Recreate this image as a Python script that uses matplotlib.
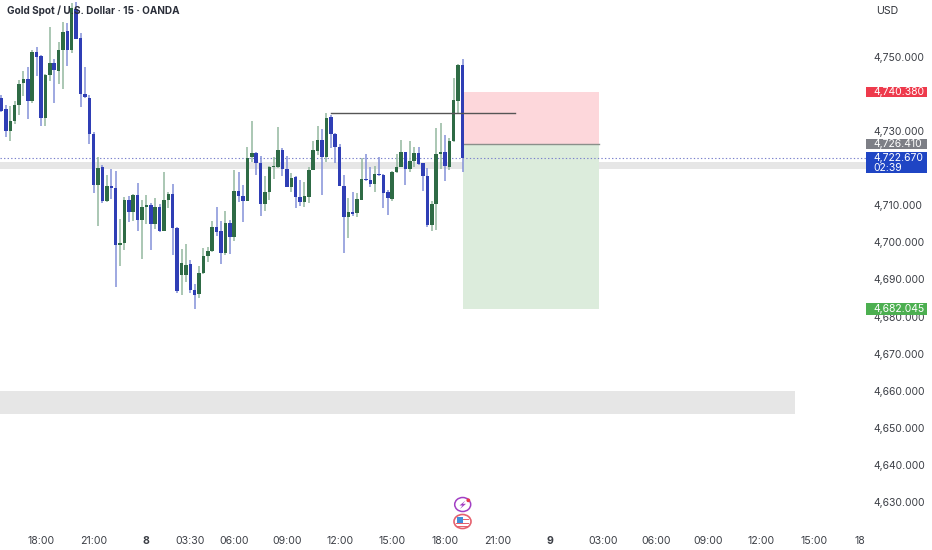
import matplotlib
matplotlib.use("Agg")
import matplotlib.pyplot as plt
from matplotlib.patches import Rectangle, Ellipse, Polygon
from matplotlib.transforms import blended_transform_factory

opens = [4738.9,4735.8,4730.0,4732.7,4736.9,4742.9,4743.9,4737.9,4751.2,4750.1,4733.4,4745.0,4748.2,4746.1,4751.7,4756.8,4751.7,4762.7,4754.9,4739.8,
4738.9,4729.1,4715.4,4720.3,4711.1,4715.1,4714.6,4699.3,4699.7,4711.4,4708.2,4712.7,4706.1,4709.4,4709.9,4704.9,4709.6,4702.9,4711.4,4713.1,
4703.8,4691.3,4691.3,4694.1,4687.2,4686.0,4691.6,4696.4,4697.7,4704.2,4702.9,4697.2,4705.1,4701.3,4713.9,4712.5,4711.1,4723.0,4723.9,4721.4,
4710.3,4713.4,4720.2,4720.3,4724.9,4719.6,4714.9,4717.5,4712.2,4710.9,4712.3,4719.5,4724.6,4727.5,4723.0,4733.7,4729.1,4725.7,4715.1,4706.7,
4708.1,4707.8,4711.5,4717.1,4716.8,4715.6,4718.5,4718.1,4713.4,4711.7,4718.9,4720.2,4724.2,4719.6,4721.9,4723.9,4721.2,4717.8,4704.7,4710.3,
4723.8,4724.3,4720.3,4727.2,4738.1,4747.7]
highs = [4739.6,4736.9,4736.7,4738.1,4743.7,4746.1,4747.1,4751.7,4752.5,4750.4,4745.3,4758.0,4749.2,4753.8,4759.4,4758.9,4764.3,4764.8,4756.2,4747.1,
4739.6,4729.6,4722.9,4720.8,4718.1,4719.6,4719.1,4706.3,4712.1,4712.5,4713.0,4715.9,4711.3,4712.7,4710.5,4711.8,4710.3,4719.0,4713.6,4715.7,
4704.0,4698.2,4699.5,4695.2,4688.8,4693.7,4698.4,4698.8,4705.7,4709.4,4705.7,4708.3,4706.0,4719.5,4719.0,4715.4,4725.6,4732.7,4724.4,4723.2,
4717.8,4720.5,4722.9,4731.0,4725.3,4723.2,4718.7,4717.8,4716.8,4716.3,4720.2,4727.3,4731.3,4730.6,4734.7,4734.2,4729.3,4726.4,4718.1,4711.8,
4713.4,4713.2,4722.6,4723.8,4720.2,4720.4,4722.9,4718.4,4714.1,4719.3,4723.7,4727.6,4724.4,4727.3,4725.7,4725.7,4721.4,4719.9,4711.2,4730.7,
4732.0,4728.9,4728.0,4744.1,4748.0,4749.3]
lows = [4735.1,4728.2,4727.3,4731.8,4734.2,4739.4,4733.1,4737.4,4744.7,4731.4,4731.4,4743.4,4737.4,4742.6,4741.2,4747.5,4751.0,4754.8,4736.5,4738.9,
4726.4,4713.2,4704.4,4710.7,4710.8,4711.7,4687.9,4693.7,4697.9,4705.4,4705.8,4703.1,4695.5,4705.0,4697.9,4703.7,4702.7,4702.9,4709.2,4696.6,
4686.3,4685.8,4689.4,4686.4,4682.0,4684.9,4691.5,4694.8,4697.3,4701.7,4694.2,4696.6,4696.8,4700.4,4710.9,4705.5,4711.1,4721.7,4718.1,4707.1,
4708.5,4711.4,4717.1,4720.1,4717.9,4714.8,4713.4,4709.3,4709.8,4709.6,4710.5,4719.5,4723.5,4712.6,4721.7,4725.5,4721.4,4715.1,4697.0,4701.2,
4707.1,4706.9,4711.4,4716.6,4715.0,4713.4,4717.8,4709.3,4707.4,4711.2,4718.7,4720.2,4715.3,4719.0,4720.2,4720.8,4713.9,4704.2,4702.9,4703.3,
4719.6,4716.6,4719.5,4727.1,4734.7,4719.0]
closes = [4735.4,4730.0,4732.7,4736.9,4742.7,4743.9,4737.9,4751.2,4750.0,4733.4,4745.0,4748.3,4746.4,4751.7,4756.6,4751.7,4763.0,4754.8,4740.0,4739.0,
4729.1,4715.4,4720.1,4711.1,4715.1,4714.6,4699.3,4699.7,4711.4,4708.1,4712.7,4706.1,4709.5,4709.9,4704.9,4709.6,4702.9,4711.4,4713.0,4703.8,
4687.0,4694.3,4693.9,4687.2,4685.9,4691.6,4696.4,4697.7,4704.2,4702.8,4697.2,4705.1,4701.3,4713.9,4712.5,4711.1,4722.8,4724.0,4721.4,4710.3,
4713.4,4720.3,4720.5,4724.9,4719.6,4715.0,4717.4,4712.2,4710.9,4712.4,4719.4,4724.7,4727.4,4723.0,4733.5,4729.1,4725.6,4715.1,4706.7,4708.1,
4707.7,4711.6,4717.1,4716.8,4715.6,4718.5,4718.1,4713.3,4711.8,4719.0,4720.3,4724.2,4719.7,4722.0,4723.9,4721.0,4717.7,4704.7,4710.4,4723.8,
4724.4,4720.4,4727.3,4738.2,4747.7,4722.67]

price_ticks = [4750,4730,4710,4700,4690,4680,4670,4660,4650,4640,4630]
time_pos = [9,21,33,43,53,65,77,89,101,113,125,137,149,161,173,185,195.4]
time_labels = ["18:00","21:00","8","03:30","06:00","09:00","12:00","15:00","18:00","21:00","9","03:00","06:00","09:00","12:00","15:00","18"]
stop_level, entry_level, target_level = 4740.38, 4726.41, 4682.045
last_price = 4722.67
resist_level = 4734.87
band_upper = (4719.6, 4721.6)
band_lower = (4653.8, 4660.0)

FONT = "Inter"
W, H = 932, 550
fig = plt.figure(figsize=(W/100, H/100), dpi=100, facecolor="white")
ax = fig.add_axes([0, 23/H, 866/W, 527/H])
ax.set_xlim(-0.34, 196.9)
ax.set_ylim(4623.35, 4765.21)
for s in ax.spines.values():
    s.set_visible(False)

GREEN, BLUE = "#2e6b45", "#2f3eb5"
GREEN_W, BLUE_W = "#93b89f", "#8491d8"

ax.axhspan(*band_upper, color="#e6e6e6", lw=0, zorder=0)
ax.fill_between([-1, 180.8], *band_lower, color="#e6e6e6", lw=0, zorder=0)
ax.fill_between([105, 136.1], entry_level, stop_level, color="#fdd7db", lw=0, zorder=0.5)
ax.fill_between([105, 136.1], target_level, entry_level, color="#dcecdc", lw=0, zorder=0.5)
ax.plot([105, 136.1], [entry_level]*2, color="#8a8f8a", lw=1, zorder=0.6)
ax.axhline(last_price, color="#7a80cc", lw=0.8, ls=(0, (1.2, 2.0)), zorder=0.8)

for i, (o, h, l, c) in enumerate(zip(opens, highs, lows, closes)):
    up = c >= o
    ax.vlines(i, l, h, color=GREEN_W if up else BLUE_W, lw=1.1, zorder=2)
    ax.bar(i, abs(c-o), bottom=min(o, c), width=0.8, color=GREEN if up else BLUE, lw=0, zorder=3)

ax.plot([75, 117], [resist_level]*2, color="#555555", lw=1.0, zorder=4)

ax.yaxis.tick_right()
ax.set_yticks(price_ticks)
ax.set_yticklabels([f"{p:,}.000" for p in price_ticks], fontsize=7.5, family=FONT, color="#3c3f46")
ax.set_xticks(time_pos)
ax.set_xticklabels(time_labels, fontsize=7.6, family=FONT, color="#3c3f46")
for t, lab in zip(ax.get_xticklabels(), time_labels):
    if lab in ("8", "9"):
        t.set_fontweight("bold")
ax.tick_params(axis="both", length=0)
ax.tick_params(axis="y", pad=5.0)
ax.tick_params(axis="x", pad=6.5)

tr = blended_transform_factory(fig.transFigure, ax.transData)
def tag(level, dy_top, dy_bot, color, lines):
    x0, x1 = 866/W, 927/W
    top, bot = level + dy_top, level - dy_bot
    ax.add_patch(Rectangle((x0, bot), x1-x0, top-bot, transform=tr, color=color, lw=0, clip_on=False, zorder=10))
    for txt, off in lines:
        ax.text(873/W, level+off, txt, transform=tr, color="white", fontsize=7.5, family=FONT,
                ha="left", va="center", clip_on=False, zorder=11)

tag(stop_level, 1.4, 1.4, "#ee3a4c", [(f"{stop_level:,.3f}", 0)])
tag(entry_level, 1.5, 1.4, "#7d7f86", [(f"{entry_level:,.3f}", 0)])
tag(last_price, 1.5, 4.1, "#1f45c4", [(f"{last_price:,.3f}", 0), ("02:39", -2.6)])
tag(target_level, 1.5, 1.5, "#4caf50", [(f"{target_level:,.3f}", 0)])

fig.text(876/W, 1-11.5/H, "USD", fontsize=7.6, family=FONT, color="#2e3138", ha="left", va="center")
fig.text(7/W, 1-11/H, "Gold Spot / U.S. Dollar · 15 · OANDA", fontsize=7.2, family=FONT,
         fontweight="bold", color="#2a2e39", ha="left", va="center", zorder=20)

# event icons
ip = lambda x, y: (x/W, 1-y/H)
def ring(x, y, rx, ry, ec, fc="white", lw=1.1):
    fig.add_artist(Ellipse(ip(x, y), 2*rx/W, 2*ry/H, transform=fig.transFigure, fc=fc, ec=ec, lw=lw, zorder=30))
def box(x0, y0, x1, y1, color, z=31):
    fig.add_artist(Rectangle(ip(x0, y1), (x1-x0)/W, (y1-y0)/H, transform=fig.transFigure, fc=color, ec="none", zorder=z))
ring(462.7, 504.5, 8, 7, "#a23fc4")
fig.add_artist(Polygon([ip(465.5, 500.5), ip(459.5, 505.5), ip(462.5, 505.5), ip(460, 509), ip(466, 503.8), ip(462.8, 503.8)],
                       closed=True, transform=fig.transFigure, fc="#a23fc4", ec="none", zorder=31))
ring(468.3, 500.3, 1.9, 1.9, "#e5384f", fc="#e5384f", lw=0)
ring(462.5, 521.5, 8.5, 7, "#e5616e", lw=1.2)
box(456, 522.5, 469, 524, "#e5616e")
box(456.5, 526, 468, 527.2, "#e5616e")
box(463, 518.5, 469, 519.8, "#e5616e")
box(456.5, 517, 463, 523, "#3f8fdc", 32)

fig.savefig("out.png", dpi=100)
